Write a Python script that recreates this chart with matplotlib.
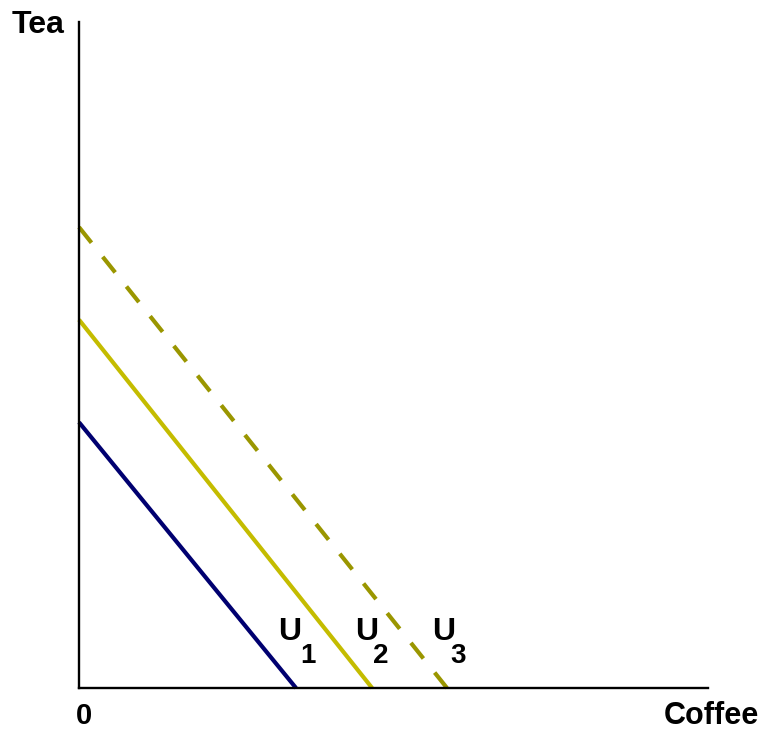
import matplotlib.pyplot as plt

# intercepts of the three indifference (straight-line) curves, in axis units 0..10
curve_names = ["U1", "U2", "U3"]
x_intercepts = [3.45, 4.66, 5.85]
y_intercepts = [3.99, 5.53, 6.92]
curve_colors = ["#000070", "#c4bc00", "#9a9600"]
curve_dashed = [False, False, True]

# label positions (main letter and subscript)
label_x = [3.16, 4.39, 5.61]
label_y = 0.72
sub_x = [3.51, 4.68, 5.91]
sub_y = 0.375
sub_text = ["1", "2", "3"]

W, H = 759, 731
plt.rcParams["font.family"] = ["Liberation Sans", "DejaVu Sans"]
fig = plt.figure(figsize=(W / 100, H / 100), dpi=100)
ax = fig.add_axes([79 / W, (H - 688) / H, (708 - 79) / W, (688 - 22) / H])
ax.set_xlim(0, 10)
ax.set_ylim(0, 10)

for i in range(len(curve_names)):
    # dash pattern chosen so the dashed curve starts and ends on a dash
    ls = (0, (4.8, 4.32)) if curve_dashed[i] else "-"
    ax.plot([0, x_intercepts[i]], [y_intercepts[i], 0], color=curve_colors[i],
            lw=3.0, linestyle=ls, solid_capstyle="butt", dash_capstyle="butt",
            clip_on=False, zorder=2)
    ax.text(label_x[i], label_y, "U", fontsize=23, fontweight="bold",
            ha="left", va="baseline")
    ax.text(sub_x[i], sub_y, sub_text[i], fontsize=20, fontweight="bold",
            ha="left", va="baseline")

for s in ["top", "right"]:
    ax.spines[s].set_visible(False)
for s in ["left", "bottom"]:
    ax.spines[s].set_linewidth(1.7)
    ax.spines[s].set_zorder(3)
ax.set_xticks([])
ax.set_yticks([])

fig.text(12 / W, 1 - 33 / H, "Tea", fontsize=23, fontweight="bold",
         ha="left", va="baseline")
fig.text(84 / W, 1 - 724 / H, "0", fontsize=21, fontweight="bold",
         ha="center", va="baseline")
fig.text(664 / W, 1 - 724 / H, "Coffee", fontsize=22, fontweight="bold",
         ha="left", va="baseline")

fig.savefig("out.png", dpi=100)
